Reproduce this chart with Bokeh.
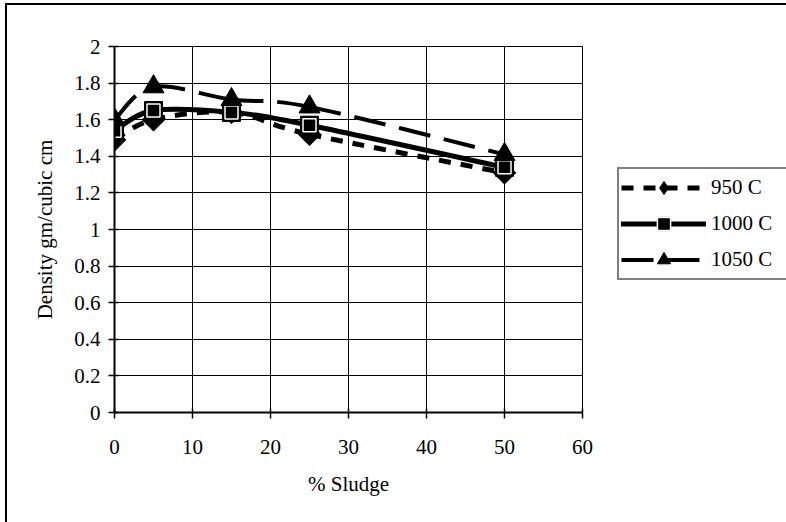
import numpy as np
from bokeh.plotting import figure
from bokeh.models import Range1d, FixedTicker, NumeralTickFormatter, Legend, LegendItem
from bokeh.embed import file_html
from bokeh.resources import INLINE

# ---- data ----
sludge = [0, 5, 15, 25, 50]
d950 = [1.49, 1.60, 1.64, 1.52, 1.31]
d1000 = [1.54, 1.65, 1.64, 1.57, 1.34]
d1050 = [1.60, 1.78, 1.71, 1.67, 1.41]
labels = ["950 C", "1000 C", "1050 C"]
x_ticks = [0, 10, 20, 30, 40, 50, 60]
y_ticks = [0, 0.2, 0.4, 0.6, 0.8, 1, 1.2, 1.4, 1.6, 1.8, 2]

FONT = "Liberation Serif"
FS = "21px"

p = figure(frame_width=468, frame_height=366, output_backend="svg", toolbar_location=None,
           x_range=Range1d(0, 60), y_range=Range1d(0, 2),
           min_border_left=107, min_border_top=41, min_border_bottom=110, min_border_right=0,
           background_fill_color="white", border_fill_color="white",
           styles={"margin-left": "5px", "margin-top": "3px",
                   "border-left": "2px solid black", "border-top": "2px solid black"})

p.outline_line_color = "black"
p.outline_line_width = 1

for ax in (p.xaxis[0], p.yaxis[0]):
    ax.axis_line_color = "black"
    ax.axis_line_width = 2
    ax.major_tick_line_color = "black"
    ax.major_tick_line_width = 1.5
    ax.major_tick_in = 4
    ax.major_tick_out = 6
    ax.minor_tick_line_color = None
    ax.major_label_text_font = FONT
    ax.major_label_text_font_size = FS
    ax.major_label_text_color = "black"
    ax.axis_label_text_font = FONT
    ax.axis_label_text_font_size = FS
    ax.axis_label_text_font_style = "normal"
    ax.axis_label_text_color = "black"

p.xaxis[0].ticker = FixedTicker(ticks=x_ticks)
p.yaxis[0].ticker = FixedTicker(ticks=y_ticks)
p.yaxis[0].formatter = NumeralTickFormatter(format="0.[0]")
p.xaxis[0].major_label_standoff = 21
p.yaxis[0].major_label_standoff = 8
p.xaxis[0].axis_label = "% Sludge"
p.yaxis[0].axis_label = "Density gm/cubic cm"
p.xaxis[0].axis_label_standoff = 15
p.yaxis[0].axis_label_standoff = 14

for g in (p.xgrid[0], p.ygrid[0]):
    g.grid_line_color = "black"
    g.grid_line_width = 1
p.xgrid[0].ticker = FixedTicker(ticks=x_ticks)
p.ygrid[0].ticker = FixedTicker(ticks=y_ticks)


def smooth_segments(xs, ys):
    """Bezier control points (Catmull-Rom style, like Excel's smoothed line)."""
    x = np.asarray(xs, float)
    y = np.asarray(ys, float)
    n = len(x)
    xp = np.concatenate([[x[0]], x, [x[-1]]])
    yp = np.concatenate([[y[0]], y, [y[-1]]])
    out = {k: [] for k in ("x0", "y0", "x1", "y1", "cx0", "cy0", "cx1", "cy1")}
    for i in range(n - 1):
        j = i + 1
        out["x0"].append(x[i]); out["y0"].append(y[i])
        out["x1"].append(x[i + 1]); out["y1"].append(y[i + 1])
        out["cx0"].append(x[i] + (xp[j + 1] - xp[j - 1]) / 6.0)
        out["cy0"].append(y[i] + (yp[j + 1] - yp[j - 1]) / 6.0)
        out["cx1"].append(x[i + 1] - (xp[j + 2] - xp[j]) / 6.0)
        out["cy1"].append(y[i + 1] - (yp[j + 2] - yp[j]) / 6.0)
    return out


items = []

# 950 C : short dashes, diamonds
b950 = p.bezier(line_color="black", line_width=5, line_dash="12 10", line_cap="butt",
                **smooth_segments(sludge, d950))
# narrow diamond sits fully under the rotated square; it gives the legend its diamond
m950_leg = p.scatter(sludge, d950, marker="diamond", size=21,
                     fill_color="black", line_color="black")
m950 = p.scatter(sludge, d950, marker="square", angle=np.pi / 4, size=16,
                 fill_color="black", line_color="black")
items.append(LegendItem(label=labels[0], renderers=[b950, m950_leg]))

# 1000 C : solid thick, squares
b1000 = p.bezier(line_color="black", line_width=5, line_cap="round",
                 **smooth_segments(sludge, d1000))
m1000a = p.scatter(sludge, d1000, marker="square", size=18,
                   fill_color="black", line_color="black")
m1000b = p.scatter(sludge, d1000, marker="square", size=13,
                   fill_color="black", line_color="white", line_width=1.5)
items.append(LegendItem(label=labels[1], renderers=[b1000, m1000a, m1000b]))

# 1050 C : long dashes, triangles
b1050 = p.bezier(line_color="black", line_width=4, line_dash="32 14", line_cap="butt",
                 **smooth_segments(sludge, d1050))
m1050 = p.scatter(sludge, d1050, marker="triangle", size=21,
                  fill_color="black", line_color="black")
items.append(LegendItem(label=labels[2], renderers=[b1050, m1050]))

legend = Legend(items=items, location=(35, 132),
                label_text_font=FONT, label_text_font_size=FS, label_text_color="black",
                glyph_width=85, glyph_height=33, label_height=33, label_width=82,
                label_standoff=5, spacing=3, padding=2, margin=0,
                border_line_color="black", border_line_width=2,
                background_fill_color="white", background_fill_alpha=1)
p.add_layout(legend, "right")

html = file_html(p, INLINE)
html = html.replace("<body>", '<body style="margin:0;padding:0;overflow:hidden;">')
open("out.html", "w").write(html)
